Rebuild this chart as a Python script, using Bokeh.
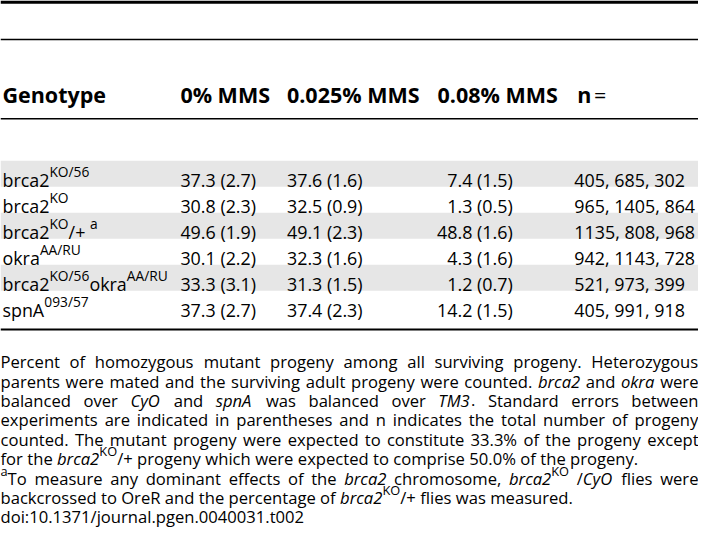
from bokeh.plotting import figure
from bokeh.models import Range1d
from bokeh.core.properties import value
from bokeh.embed import file_html
from bokeh.resources import INLINE

# ------------------------------------------------------------------ data
headers = ["Genotype", "0% MMS", "0.025% MMS", "0.08% MMS", "n"]
genotypes = [
    "brca2^{KO/56}",
    "brca2^{KO}",
    "brca2^{KO}/+ ^{a}",
    "okra^{AA/RU}",
    "brca2^{KO/56}okra^{AA/RU}",
    "spnA^{093/57}",
]
mms_0 = [37.3, 30.8, 49.6, 30.1, 33.3, 37.3]
mms_0_se = [2.7, 2.3, 1.9, 2.2, 3.1, 2.7]
mms_0025 = [37.6, 32.5, 49.1, 32.3, 31.3, 37.4]
mms_0025_se = [1.6, 0.9, 2.3, 1.6, 1.5, 2.3]
mms_008 = [7.4, 1.3, 48.8, 4.3, 1.2, 14.2]
mms_008_se = [1.5, 0.5, 1.6, 1.6, 0.7, 1.5]
n_first = [405, 965, 1135, 942, 521, 405]
n_second = [685, 1405, 808, 1143, 973, 991]
n_third = [302, 864, 968, 728, 399, 918]

caption_lines = [
    "Percent of homozygous mutant progeny among all surviving progeny. Heterozygous",
    "parents were mated and the surviving adult progeny were counted. *brca2* and *okra* were",
    "balanced over *CyO* and *spnA* was balanced over *TM3*. Standard errors between",
    "experiments are indicated in parentheses and n indicates the total number of progeny",
    "counted. The mutant progeny were expected to constitute 33.3% of the progeny except",
    "for the *brca2*^{KO}/+ progeny which were expected to comprise 50.0% of the progeny.",
    "^{a}To measure any dominant effects of the *brca2* chromosome, *brca2*^{KO} /*CyO* flies were",
    "backcrossed to OreR and the percentage of *brca2*^{KO}/+ flies was measured.",
    "doi:10.1371/journal.pgen.0040031.t002",
]
caption_justified = [True, True, True, True, True, False, True, False, False]

# ------------------------------------------------------------------ layout constants (reference px)
REF_W, REF_H = 714, 546
FIG_W, FIG_H = 698, 530
SX = FIG_W / REF_W
FONT = "Open Sans"
HEAD_SIZE = 22.0
DATA_SIZE = 18.3
SUP_RATIO = 0.77
SUP_RAISE = 0.45
HEADER_BASE = 97
HEADER_X = [2, 184, 293, 447, 590]
EQ_X = 607
GENO_X, C1_X, C2_X, C3_RIGHT, C4_X = 2, 184, 293, 524, 587
ROW_TOP0, ROW_H, ROW_BASE_OFF = 165, 26.8, 19.6
CAP_BASE0, CAP_STEP = 372, 20.0
CAP_MAX_SIZE = 17.0
BAND_COLOR = "#e6e6e6"
RULE_TOP = [0, 39.5, 121.0, 338.0]
RULE_BOT = [3.3, 41.0, 122.5, 340.0]

# approximate Open Sans advance widths (em)
REG = {' ': .26, '(': .296, ')': .296, ',': .245, '-': .322, '.': .266, '/': .367,
       ':': .266, '%': .828, '+': .572, '=': .572}
for _d in "0123456789":
    REG[_d] = .572
REG.update(dict(A=.633, B=.648, C=.631, D=.729, E=.556, F=.516, G=.728, H=.738, I=.279,
                J=.267, K=.614, L=.524, M=.903, N=.759, O=.779, P=.602, Q=.779, R=.618,
                S=.549, T=.553, U=.736, V=.592, W=.921, X=.567, Y=.546, Z=.561))
REG.update(dict(a=.556, b=.613, c=.476, d=.613, e=.561, f=.339, g=.548, h=.614, i=.253,
                j=.253, k=.525, l=.253, m=.930, n=.614, o=.604, p=.613, q=.613, r=.408,
                s=.477, t=.353, u=.614, v=.501, w=.778, x=.524, y=.502, z=.477))


def em_width(text, italic=False, bold=False):
    total = 0.0
    for ch in text:
        w = REG.get(ch, .56)
        if bold and ch.isalpha():
            w *= 1.06
        if bold and ch == '%':
            w = .87
        total += w
    return total * (0.97 if italic else 1.0)


def parse(s):
    runs, buf = [], ""
    italic = sup = False
    i = 0
    while i < len(s):
        c = s[i]
        if c == '*':
            if buf:
                runs.append((buf, italic, sup)); buf = ""
            italic = not italic
        elif s.startswith('^{', i):
            if buf:
                runs.append((buf, italic, sup)); buf = ""
            sup = True
            i += 1
        elif c == '}' and sup:
            if buf:
                runs.append((buf, italic, sup)); buf = ""
            sup = False
        else:
            buf += c
        i += 1
    if buf:
        runs.append((buf, italic, sup))
    return runs


def split_words(runs):
    words, cur = [], []
    for text, it, sp in runs:
        parts = text.split(' ')
        for k, part in enumerate(parts):
            if k > 0:
                if cur:
                    words.append(cur)
                cur = []
            if part:
                cur.append((part, it, sp))
    if cur:
        words.append(cur)
    return words


def runs_width(runs, size):
    return sum(em_width(t, it) * (size * SUP_RATIO if sp else size) for t, it, sp in runs)


groups = {}


def put(x, y, text, size, italic=False, bold=False, align="left"):
    key = (round(size * SX, 2), italic, bold, align)
    g = groups.setdefault(key, dict(x=[], y=[], text=[]))
    g["x"].append(x); g["y"].append(y); g["text"].append(text)


def draw_runs(runs, x, base, size):
    for t, it, sp in runs:
        s = size * SUP_RATIO if sp else size
        y = base - size * SUP_RAISE if sp else base
        put(x, y, t, s, italic=it)
        x += em_width(t, it) * s
    return x


# ------------------------------------------------------------------ figure
p = figure(width=FIG_W, height=FIG_H, x_range=Range1d(0, REF_W), y_range=Range1d(REF_H, 0),
           x_axis_type=None, y_axis_type=None, output_backend="svg", toolbar_location=None,
           min_border=0)
p.grid.visible = False
p.outline_line_color = None
p.background_fill_color = "white"
p.border_fill_color = "white"

# row bands
n_rows = len(genotypes)
band_tops = [ROW_TOP0 + i * ROW_H for i in range(n_rows) if i % 2 == 0]
p.quad(left=0, right=REF_W, top=band_tops, bottom=[t + ROW_H for t in band_tops],
       fill_color=BAND_COLOR, line_color=None)

# rules
p.quad(left=0, right=REF_W, top=RULE_TOP, bottom=RULE_BOT, fill_color="black", line_color=None)

# header
for hx, h in zip(HEADER_X, headers):
    put(hx, HEADER_BASE, h, HEAD_SIZE, bold=True)
put(EQ_X, HEADER_BASE, "=", HEAD_SIZE)

# body rows
for i in range(n_rows):
    base = ROW_TOP0 + i * ROW_H + ROW_BASE_OFF
    draw_runs(parse(genotypes[i]), GENO_X, base, DATA_SIZE)
    put(C1_X, base, f"{mms_0[i]:.1f} ({mms_0_se[i]:.1f})", DATA_SIZE)
    put(C2_X, base, f"{mms_0025[i]:.1f} ({mms_0025_se[i]:.1f})", DATA_SIZE)
    put(C3_RIGHT, base, f"{mms_008[i]:.1f} ({mms_008_se[i]:.1f})", DATA_SIZE, align="right")
    put(C4_X, base, f"{n_first[i]}, {n_second[i]}, {n_third[i]}", DATA_SIZE)

# caption (justified lines)
cap_words = [split_words(parse(s)) for s in caption_lines]
max_em = 0
for words, just in zip(cap_words, caption_justified):
    if just:
        em = sum(runs_width(w, 1.0) for w in words) + REG[' '] * (len(words) - 1)
        max_em = max(max_em, em)
CAP_SIZE = min(CAP_MAX_SIZE, REF_W / max_em * 0.995)

for li, (words, just) in enumerate(zip(cap_words, caption_justified)):
    base = CAP_BASE0 + li * CAP_STEP
    widths = [runs_width(w, CAP_SIZE) for w in words]
    if just and len(words) > 1:
        gap = (REF_W - sum(widths)) / (len(words) - 1)
    else:
        gap = REG[' '] * CAP_SIZE
    x = 0.0
    for wi, (w, ww) in enumerate(zip(words, widths)):
        if just and wi == len(words) - 1:
            x = REF_W - ww
        draw_runs(w, x, base, CAP_SIZE)
        x += ww + gap

for (size, italic, bold, align), g in groups.items():
    style = "bold" if bold else ("italic" if italic else "normal")
    p.text(x=g["x"], y=g["y"], text=g["text"], text_font=value(FONT),
           text_font_size=value(f"{size}px"), text_font_style=style,
           text_align=align, text_baseline="alphabetic", text_color="#000000")

open("out.html", "w").write(file_html(p, INLINE))
